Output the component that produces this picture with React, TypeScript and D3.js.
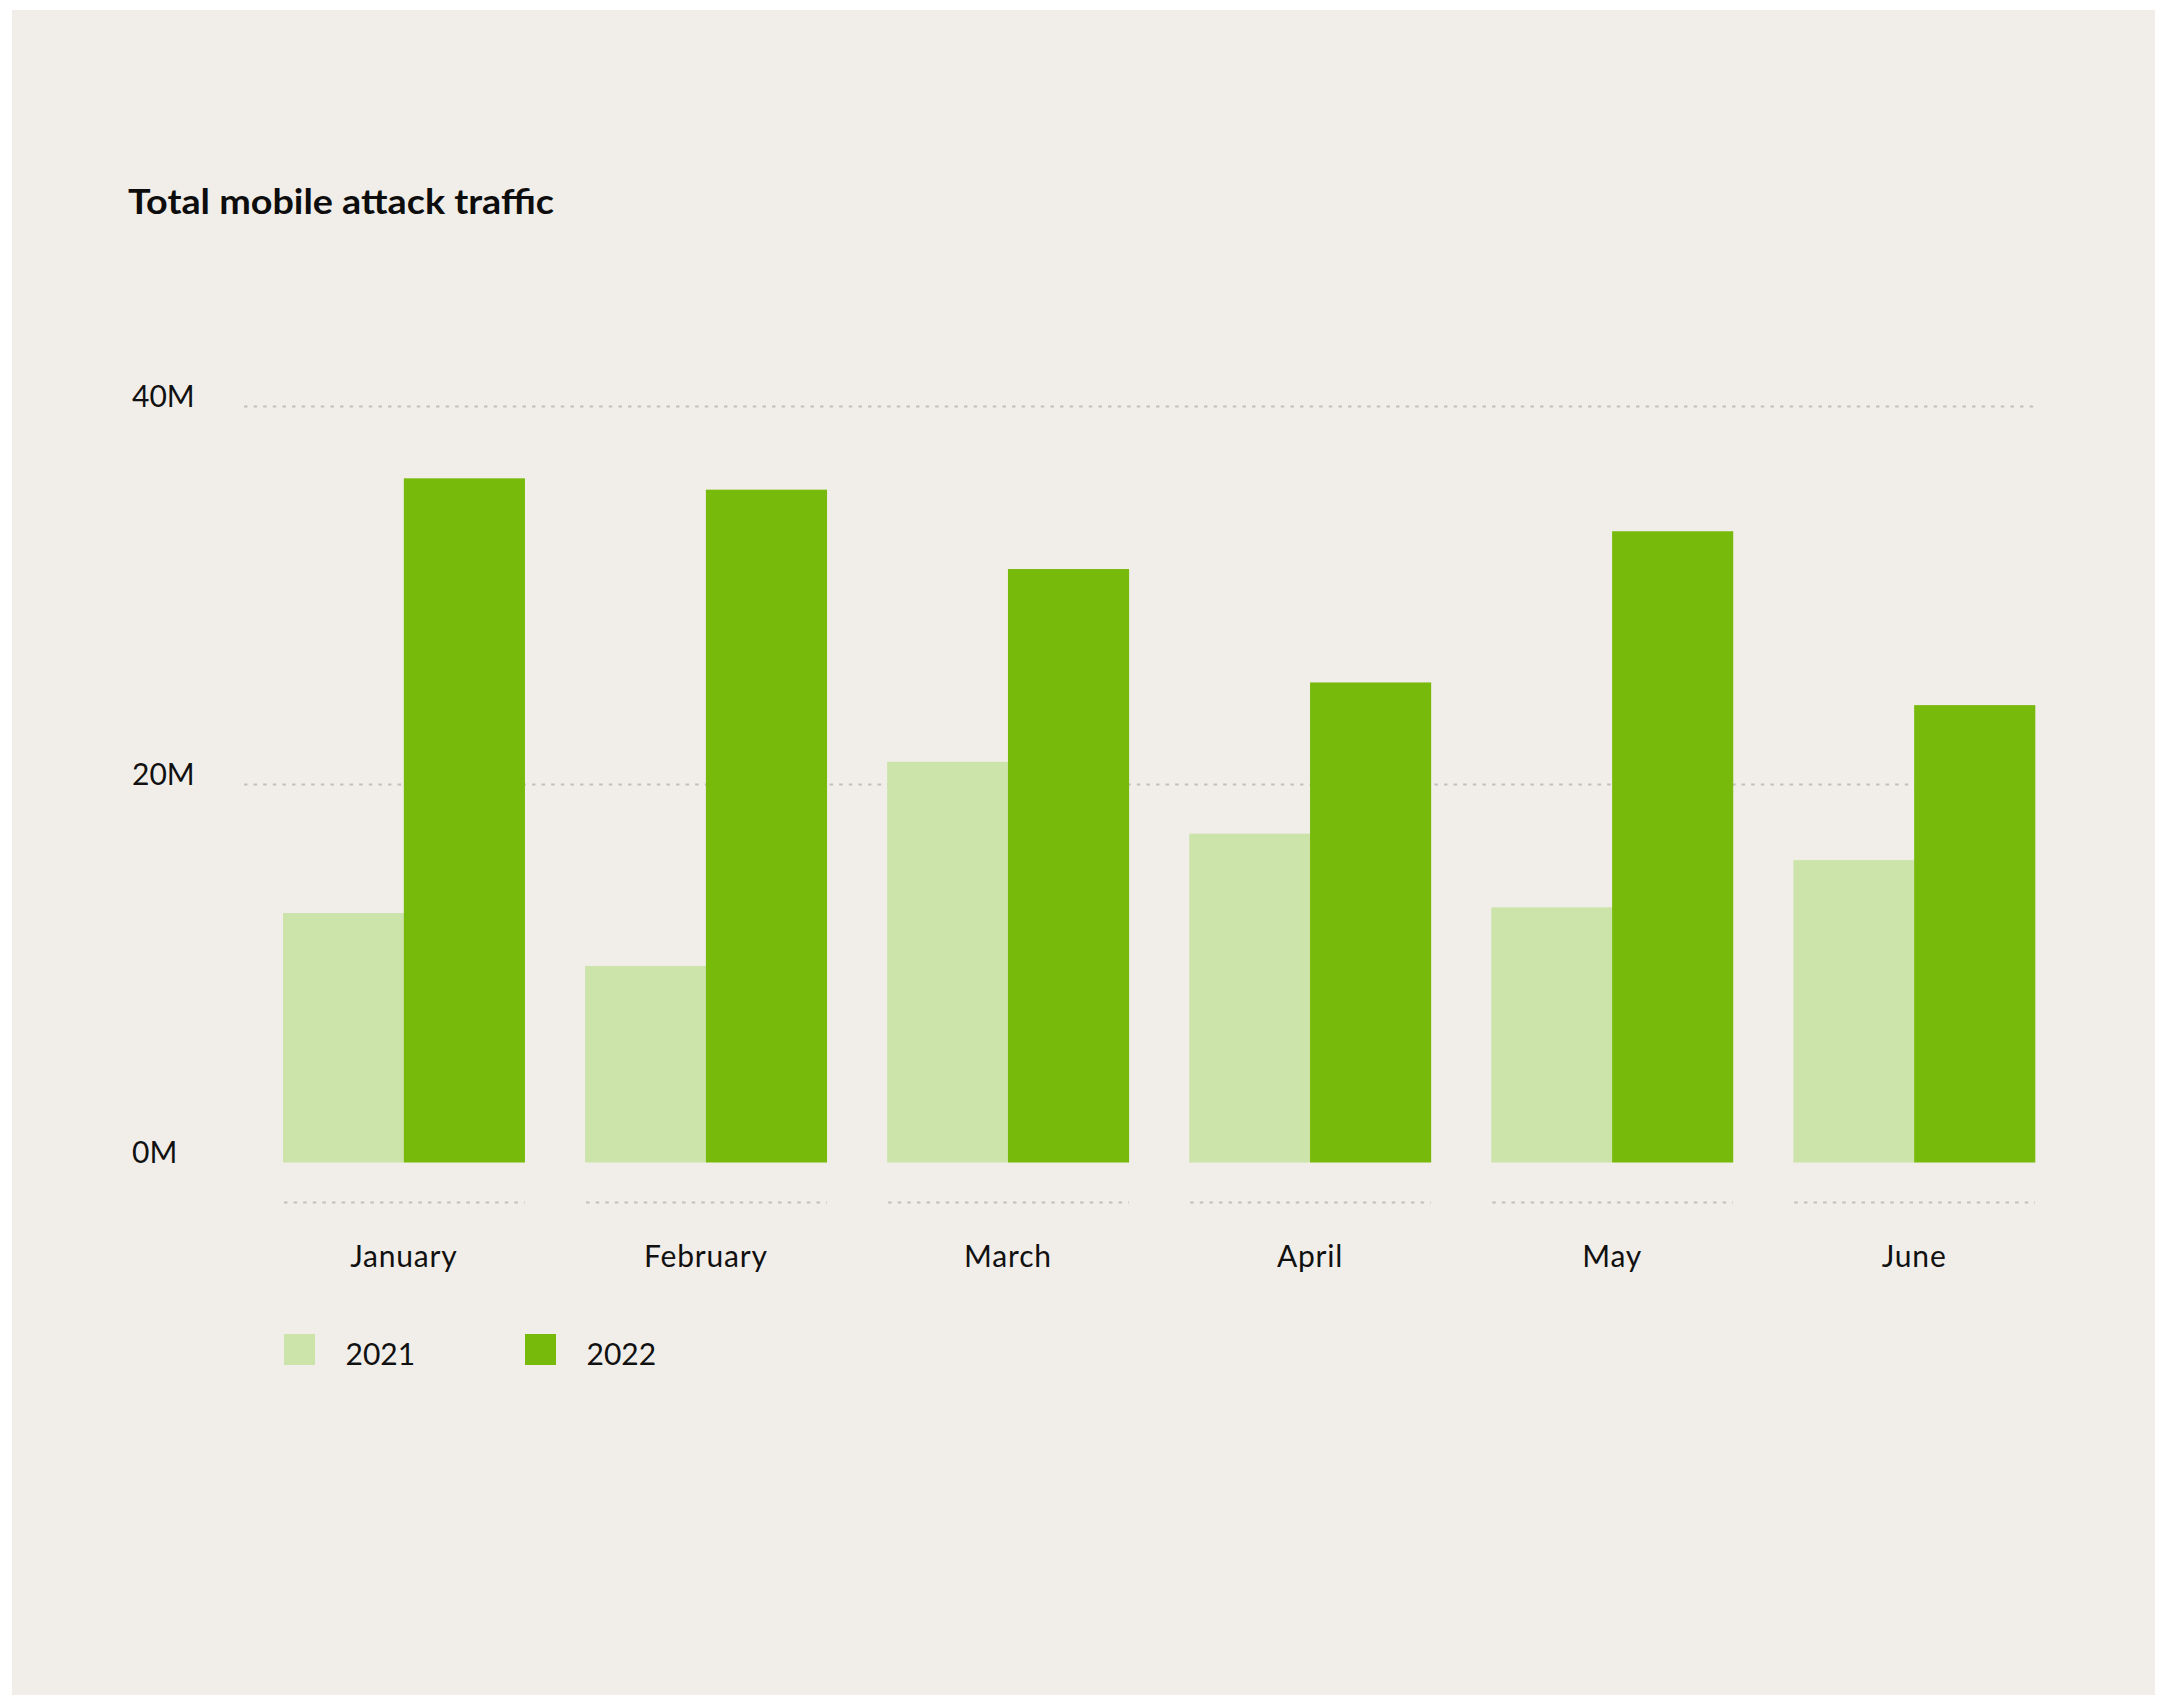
import React, { useEffect, useRef } from "react";
import * as d3 from "d3";

const months = ["January", "February", "March", "April", "May", "June"];
const series = ["2021", "2022"];
const values2021 = [13.2, 10.4, 21.2, 17.4, 13.5, 16.0];
const values2022 = [36.2, 35.6, 31.4, 25.4, 33.4, 24.2];
const yTicks = [0, 20, 40];
const colors = ["#CCE4AA", "#78BA0B"];
const title = "Total mobile attack traffic";

const W = 2166;
const H = 1695;

export default function App() {
  const ref = useRef<SVGSVGElement>(null);

  useEffect(() => {
    const svg = d3.select(ref.current);
    svg.selectAll("*").remove();

    const font = "Lato, 'Open Sans', sans-serif";

    svg
      .append("rect")
      .attr("x", 12)
      .attr("y", 10)
      .attr("width", 2143)
      .attr("height", H - 10)
      .attr("fill", "#F1EEE9");

    const x0 = d3.scaleBand<string>().domain(months).range([283, 2035]).paddingInner(0.2).paddingOuter(0);
    const x1 = d3.scaleBand<string>().domain(series).range([0, x0.bandwidth()]).padding(0);
    const y = d3.scaleLinear().domain([0, 40]).range([1162.5, 406.5]);

    // title
    svg
      .append("text")
      .attr("x", 128)
      .attr("y", 214)
      .attr("font-family", font)
      .attr("font-weight", 700)
      .attr("font-size", 35)
      .attr("fill", "#0d0d0d")
      .attr("textLength", 426)
      .attr("lengthAdjust", "spacingAndGlyphs")
      .text(title);

    // gridlines (non-zero)
    svg
      .selectAll("line.grid")
      .data(yTicks.filter((t) => t > 0))
      .enter()
      .append("line")
      .attr("x1", 244)
      .attr("x2", 2035)
      .attr("y1", (d) => y(d))
      .attr("y2", (d) => y(d))
      .attr("stroke", "#C2BFBA")
      .attr("stroke-width", 2)
      .attr("stroke-dasharray", "3.5 6.1");

    // y labels
    svg
      .selectAll("text.ylab")
      .data(yTicks)
      .enter()
      .append("text")
      .attr("x", 132)
      .attr("y", (d) => y(d))
      .attr("font-family", font)
      .attr("font-size", 30)
      .attr("fill", "#111")
      .text((d) => `${d}M`);

    // bars
    const data = months.map((m, i) => ({ m, vals: [values2021[i], values2022[i]] }));
    const g = svg
      .selectAll("g.grp")
      .data(data)
      .enter()
      .append("g")
      .attr("transform", (d) => `translate(${x0(d.m)},0)`);

    g.selectAll("rect")
      .data((d) => d.vals.map((v, j) => ({ v, s: series[j], c: colors[j] })))
      .enter()
      .append("rect")
      .attr("x", (d) => x1(d.s)!)
      .attr("width", x1.bandwidth() + 0.3)
      .attr("y", (d) => y(d.v))
      .attr("height", (d) => y(0) - y(d.v))
      .attr("fill", (d) => d.c);

    // dotted lines under groups
    g.append("line")
      .attr("x1", 1)
      .attr("x2", x0.bandwidth())
      .attr("y1", 1202.5)
      .attr("y2", 1202.5)
      .attr("stroke", "#C2BFBA")
      .attr("stroke-width", 2)
      .attr("stroke-dasharray", "3.5 6.1");

    // month labels
    g.append("text")
      .attr("x", x0.bandwidth() / 2)
      .attr("y", 1267)
      .attr("text-anchor", "middle")
      .attr("font-family", font)
      .attr("font-size", 30)
      .attr("letter-spacing", 0.8)
      .attr("fill", "#111")
      .text((d) => d.m);

    // legend
    const legendX = [284, 525];
    const lg = svg
      .selectAll("g.leg")
      .data(series)
      .enter()
      .append("g")
      .attr("transform", (d, i) => `translate(${legendX[i]},1334)`);
    lg.append("rect")
      .attr("width", 31)
      .attr("height", 31)
      .attr("fill", (d, i) => colors[i]);
    lg.append("text")
      .attr("x", 61.5)
      .attr("y", 31)
      .attr("font-family", font)
      .attr("font-size", 30)
      .attr("fill", "#111")
      .text((d) => d);
  }, []);

  return (
    <svg
      ref={ref}
      width={W}
      height={H}
      style={{ position: "absolute", left: 0, top: 0, background: "#fff" }}
    />
  );
}
